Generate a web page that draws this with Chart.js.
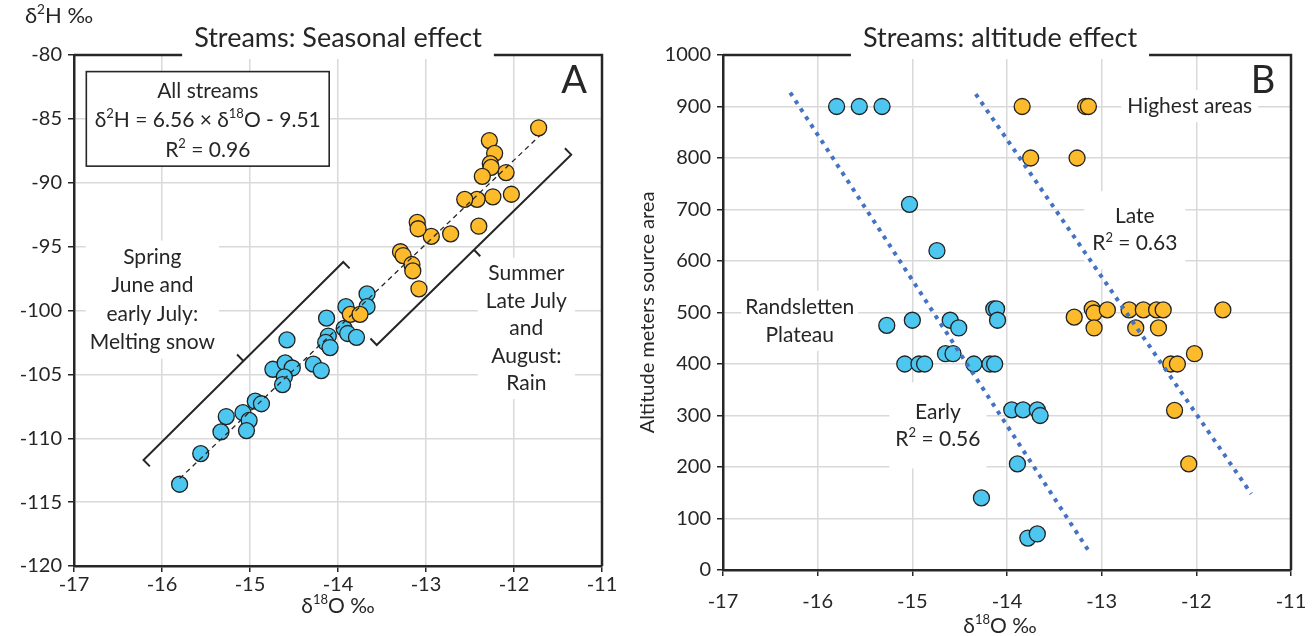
<!DOCTYPE html>
<html>
<head>
<meta charset="utf-8">
<script src="https://cdn.jsdelivr.net/npm/chart.js@4.4.0/dist/chart.umd.min.js"></script>
<style>
  html, body { margin: 0; padding: 0; background: #fff; }
  #wrap { position: relative; width: 1315px; height: 636px; }
  .panel { position: absolute; top: 0; height: 636px; }
</style>
</head>
<body>
<div id="wrap">
  <div class="panel" style="left:0;width:630px"><canvas id="seasonal"></canvas></div>
  <div class="panel" style="left:630px;width:685px"><canvas id="altitude"></canvas></div>
</div>
<script>
// ---- Panel A: d18O vs d2H, spring (melt) and summer (rain) stream samples
const springO = [-15.80, -15.56, -15.33, -15.27, -15.08, -15.01, -15.04, -14.94, -14.87, -14.74, -14.60, -14.52, -14.61, -14.63,
                 -14.58, -14.28, -14.19, -14.13, -14.11, -14.14, -14.09, -13.91, -13.93, -13.89, -13.79, -13.67, -13.67];
const springH = [-113.6, -111.2, -109.5, -108.3, -108.0, -108.6, -109.4, -107.1, -107.3, -104.6, -104.1, -104.5, -105.2, -105.8,
                 -102.3, -104.2, -104.7, -100.6, -102.0, -102.5, -102.9, -99.7, -101.4, -101.8, -102.1, -98.7, -99.7];
const summerO = [-13.86, -13.75, -11.72, -12.28, -12.22, -12.27, -12.26, -12.36, -12.09, -12.03, -12.24, -12.42,
                 -12.56, -12.40, -12.72, -12.94, -13.10, -13.09, -13.29, -13.26, -13.16, -13.15, -13.08];
const summerH = [-100.3, -100.3, -85.7, -86.7, -87.7, -88.5, -88.8, -89.5, -89.2, -90.9, -91.1, -91.3,
                 -91.3, -93.4, -94.0, -94.2, -93.1, -93.6, -95.4, -95.7, -96.4, -96.9, -98.3];
// all streams regression: d2H = 6.56 * d18O - 9.51
const fitSlope = 6.56;
const fitIntercept = -9.51;
const fitRange = [-15.8, -11.7];

// ---- Panel B: d18O vs altitude of source area
const earlyO = [-15.80, -15.56, -15.32, -15.03, -14.74, -15.27, -15.00, -15.08, -14.93, -14.87, -14.60, -14.51, -14.65, -14.57,
                -14.35, -14.18, -14.13, -14.14, -14.11, -14.10, -13.95, -13.83, -13.68, -13.65, -13.89, -14.27, -13.78, -13.68];
const earlyAlt = [900, 900, 900, 710, 620, 475, 485, 400, 400, 400, 485, 470, 420, 420,
                  400, 400, 400, 507, 507, 485, 311, 311, 311, 300, 206, 140, 62, 70];
const lateO = [-13.84, -13.17, -13.14, -13.75, -13.26, -13.29, -13.10, -13.08, -13.08, -12.94, -12.71, -12.56, -12.42, -12.35,
               -12.64, -12.40, -12.27, -12.20, -12.02, -12.23, -12.08, -11.72];
const lateAlt = [900, 900, 900, 800, 800, 491, 507, 499, 470, 505, 505, 505, 505, 505,
                 470, 470, 400, 400, 420, 310, 206, 505];
// trendline end points
const earlyFitO = [-16.29, -13.13];
const earlyFitAlt = [927, 35];
const lateFitO = [-14.33, -11.42];
const lateFitAlt = [924, 148];

// axis ticks
const isoTicks = [-17, -16, -15, -14, -13, -12, -11];
const hTicks = [-120, -115, -110, -105, -100, -95, -90, -85, -80];
const altTicks = [0, 100, 200, 300, 400, 500, 600, 700, 800, 900, 1000];

const FONT = 'Lato, "Open Sans", "Liberation Sans", sans-serif';
const INK = '#262626';
const BLUE = '#4dc6f0';
const ORANGE = '#fdbb2c';
const TREND = '#4472c4';

const pts = (xs, ys) => xs.map((v, i) => ({ x: v, y: ys[i] }));

// text with ^superscript^ segments
function drawRich(ctx, str, x, y, size, align) {
  const parts = str.split('^').map((t, i) => ({ t, sup: i % 2 === 1 }));
  let w = 0;
  parts.forEach(p => {
    ctx.font = (p.sup ? size * 0.62 : size) + 'px ' + FONT;
    p.w = ctx.measureText(p.t).width;
    w += p.w;
  });
  let cx = align === 'left' ? x : align === 'right' ? x - w : x - w / 2;
  ctx.textAlign = 'left';
  ctx.textBaseline = 'middle';
  ctx.fillStyle = INK;
  parts.forEach(p => {
    ctx.font = (p.sup ? size * 0.62 : size) + 'px ' + FONT;
    ctx.fillText(p.t, cx, p.sup ? y - size * 0.3 : y);
    cx += p.w;
  });
  return w;
}

function richWidth(ctx, str, size) {
  let w = 0;
  str.split('^').forEach((t, i) => {
    ctx.font = (i % 2 ? size * 0.62 : size) + 'px ' + FONT;
    w += ctx.measureText(t).width;
  });
  return w;
}

// white-backed text block anchored at a data position (centre of first line)
function drawNote(chart, n) {
  const { ctx, scales } = chart;
  const cx = scales.x.getPixelForValue(n.x);
  const cy = scales.y.getPixelForValue(n.y);
  const size = n.size || 21;
  const lh = n.lh || 28;
  const padX = n.padX ?? 4, padY = n.padY ?? 2;
  const w = Math.max(...n.lines.map(l => richWidth(ctx, l, size))) + padX * 2;
  const h = n.lines.length * lh + padY * 2;
  ctx.save();
  ctx.fillStyle = '#fff';
  ctx.fillRect(cx - w / 2, cy - lh / 2 - padY, w, h);
  n.lines.forEach((l, i) => drawRich(ctx, l, cx, cy + i * lh, size));
  ctx.restore();
}

// outlined box given in data units, with centred lines
function drawBoxNote(chart, b) {
  const { ctx, scales: { x, y } } = chart;
  const x1 = x.getPixelForValue(b.x1), x2 = x.getPixelForValue(b.x2);
  const y1 = y.getPixelForValue(b.y1), y2 = y.getPixelForValue(b.y2);
  ctx.save();
  ctx.fillStyle = '#fff';
  ctx.fillRect(x1, y1, x2 - x1, y2 - y1);
  ctx.strokeStyle = INK;
  ctx.lineWidth = 1.6;
  ctx.strokeRect(x1, y1, x2 - x1, y2 - y1);
  const cx = (x1 + x2) / 2;
  b.lines.forEach((l, i) => drawRich(ctx, l, cx, y.getPixelForValue(b.textY) + i * b.lh, b.size));
  ctx.restore();
}

// square bracket along a season's points; side picks the hook direction
function drawBracket(chart, b) {
  const { ctx, scales: { x, y } } = chart;
  const p1 = { x: x.getPixelForValue(b.from[0]), y: y.getPixelForValue(b.from[1]) };
  const p2 = { x: x.getPixelForValue(b.to[0]), y: y.getPixelForValue(b.to[1]) };
  const dx = p2.x - p1.x, dy = p2.y - p1.y, len = Math.hypot(dx, dy);
  const nx = -dy / len * b.side, ny = dx / len * b.side;
  const L = 9;
  const mx = (p1.x + p2.x) / 2, my = (p1.y + p2.y) / 2;
  ctx.save();
  ctx.strokeStyle = INK;
  ctx.lineWidth = 2;
  ctx.beginPath();
  ctx.moveTo(p1.x + nx * L, p1.y + ny * L);
  ctx.lineTo(p1.x, p1.y);
  ctx.lineTo(p2.x, p2.y);
  ctx.lineTo(p2.x + nx * L, p2.y + ny * L);
  ctx.moveTo(mx, my);
  ctx.lineTo(mx - nx * L, my - ny * L);
  ctx.stroke();
  ctx.restore();
}

function decor(cfg) {
  return {
    id: 'decor',
    beforeDatasetsDraw(chart) {
      (cfg.brackets || []).forEach(b => drawBracket(chart, b));
      (cfg.notes || []).forEach(n => drawNote(chart, n));
      if (cfg.box) drawBoxNote(chart, cfg.box);
    },
    afterDraw(chart) {
      const { ctx, chartArea: a, height } = chart;
      ctx.save();
      // closing frame
      ctx.strokeStyle = INK;
      ctx.lineWidth = 2.5;
      ctx.beginPath();
      ctx.moveTo(a.left, a.top);
      ctx.lineTo(a.right, a.top);
      ctx.lineTo(a.right, a.bottom);
      ctx.stroke();
      // title sitting on the top edge
      const tx = (a.left + a.right) / 2 + (cfg.titleShift || 0);
      ctx.font = '27px ' + FONT;
      const tw = ctx.measureText(cfg.title).width;
      ctx.fillStyle = '#fff';
      ctx.fillRect(tx - tw / 2 - 12, a.top - 30, tw + 24, 34);
      drawRich(ctx, cfg.title, tx, 38, 27);
      // panel letter
      ctx.font = '38px ' + FONT;
      ctx.fillStyle = INK;
      ctx.textAlign = 'center';
      ctx.textBaseline = 'middle';
      ctx.fillText(cfg.letter, a.right - 28, a.top + 26);
      // axis titles
      drawRich(ctx, 'δ^18^O ‰', (a.left + a.right) / 2 + (cfg.titleShift || 0), height - cfg.xTitleGap, 21);
      if (cfg.yTitleTop) {
        drawRich(ctx, cfg.yTitleTop, 59, 16, 22);
      }
      if (cfg.yTitleSide) {
        ctx.translate(18, (a.top + a.bottom) / 2);
        ctx.rotate(-Math.PI / 2);
        drawRich(ctx, cfg.yTitleSide, 0, 0, 20);
      }
      ctx.restore();
    }
  };
}

function axes(xTicks, yTicks, xHeight, yWidth, xPad) {
  const common = {
    type: 'linear',
    grid: { color: '#d9d9d9', lineWidth: 1.5, tickColor: INK, tickLength: 6, tickWidth: 1.5 },
    border: { color: INK, width: 2.5 },
    ticks: { color: INK, font: { family: FONT, size: 20 }, autoSkip: false, callback: v => String(v) }
  };
  return {
    x: {
      ...common, min: xTicks[0], max: xTicks[xTicks.length - 1],
      ticks: { ...common.ticks, padding: xPad },
      afterBuildTicks: s => { s.ticks = xTicks.map(v => ({ value: v })); },
      // keep the plot area fixed: labels may hang past the edges
      afterFit: s => { s.height = xHeight; s.paddingLeft = 0; s.paddingRight = 0; }
    },
    y: {
      ...common, min: yTicks[0], max: yTicks[yTicks.length - 1],
      ticks: { ...common.ticks, padding: 6 },
      afterBuildTicks: s => { s.ticks = yTicks.map(v => ({ value: v })); },
      afterFit: s => { s.width = yWidth; s.paddingTop = 0; s.paddingBottom = 0; }
    }
  };
}

function marker(label, data, color, order) {
  return {
    type: 'scatter', label, data, order,
    backgroundColor: color, borderColor: '#222', borderWidth: 1.3,
    pointRadius: 8, pointHoverRadius: 8
  };
}

const baseOpts = {
  responsive: true,
  maintainAspectRatio: false,
  animation: false,
  events: [],
  plugins: { legend: { display: false }, tooltip: { enabled: false } }
};

// ---- Panel A
const fitLine = fitRange.map(v => ({ x: v, y: fitSlope * v + fitIntercept }));

new Chart(document.getElementById('seasonal'), {
  type: 'scatter',
  data: {
    datasets: [
      { type: 'line', label: 'All streams', data: fitLine, borderColor: INK, borderWidth: 1.3,
        borderDash: [5, 4], pointRadius: 0, fill: false, order: 0 },
      marker('Summer', pts(summerO, summerH), ORANGE, 1),
      marker('Spring', pts(springO, springH), BLUE, 2)
    ]
  },
  options: {
    ...baseOpts,
    layout: { padding: { top: 55, right: 28, left: 0, bottom: 0 } },
    scales: axes(isoTicks, hTicks, 70, 74, 1)
  },
  plugins: [decor({
    title: 'Streams: Seasonal effect',
    letter: 'A',
    xTitleGap: 30,
    yTitleTop: 'δ^2^H ‰',
    box: {
      x1: -16.86, x2: -14.10, y1: -81.3, y2: -88.7, textY: -82.8, lh: 29.5, size: 21,
      lines: ['All streams', 'δ^2^H = 6.56 × δ^18^O - 9.51', 'R^2^ = 0.96']
    },
    brackets: [
      { from: [-16.21, -111.7], to: [-13.94, -96.2], side: 1 },
      { from: [-13.56, -102.7], to: [-11.35, -87.8], side: -1 }
    ],
    notes: [
      { x: -16.11, y: -95.8, lh: 28.5, lines: ['Spring', 'June and', 'early July:', 'Melting snow'] },
      { x: -11.86, y: -97.1, lh: 27.5, padX: 8, lines: ['Summer', 'Late July', 'and', 'August:', 'Rain'] }
    ]
  })]
});

// ---- Panel B
new Chart(document.getElementById('altitude'), {
  type: 'scatter',
  data: {
    datasets: [
      { type: 'line', label: 'Early trend', data: pts(earlyFitO, earlyFitAlt), borderColor: TREND, borderWidth: 4,
        borderDash: [4, 5.5], pointRadius: 0, fill: false, order: 0 },
      { type: 'line', label: 'Late trend', data: pts(lateFitO, lateFitAlt), borderColor: TREND, borderWidth: 4,
        borderDash: [4, 5.5], pointRadius: 0, fill: false, order: 0 },
      marker('Late', pts(lateO, lateAlt), ORANGE, 1),
      marker('Early', pts(earlyO, earlyAlt), BLUE, 2)
    ]
  },
  options: {
    ...baseOpts,
    layout: { padding: { top: 55, right: 24, left: 0, bottom: 0 } },
    scales: axes(isoTicks, altTicks, 66, 93, 14)
  },
  plugins: [decor({
    title: 'Streams: altitude effect',
    titleShift: -7,
    letter: 'B',
    xTitleGap: 10,
    yTitleSide: 'Altitude meters source area',
    notes: [
      { x: -16.19, y: 511, lh: 28, lines: ['Randsletten', 'Plateau'] },
      { x: -14.73, y: 307, lh: 27, padX: 6, padY: 16, lines: ['Early', 'R^2^ = 0.56'] },
      { x: -12.65, y: 686, lh: 27, padX: 8, padY: 12, lines: ['Late', 'R^2^ = 0.63'] },
      { x: -12.07, y: 901, lh: 28, padX: 6, padY: 2, lines: ['Highest areas'] }
    ]
  })]
});
</script>
</body>
</html>
